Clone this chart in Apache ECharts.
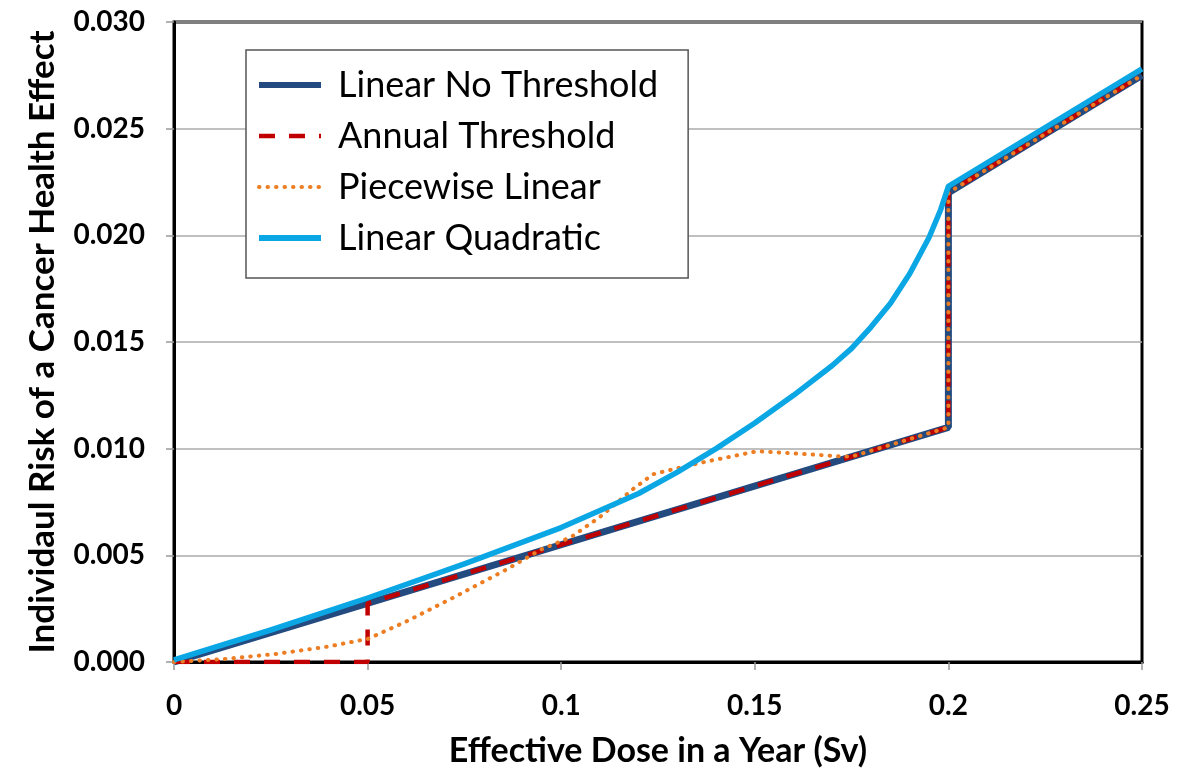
<!DOCTYPE html>
<html>
<head>
<meta charset="utf-8">
<script src="https://cdn.jsdelivr.net/npm/echarts@6/dist/echarts.min.js"></script>
<style>
  html, body { margin: 0; padding: 0; background: #fff; }
  #chart { width: 1196px; height: 773px; }
</style>
</head>
<body>
<div id="chart"></div>
<script>
// dose (Sv) and risk values
const lntDose = [0, 0.2, 0.2, 0.25];
const lntRisk = [0, 0.011, 0.022, 0.0275];

const annualDose = [0, 0.05, 0.05, 0.2, 0.2, 0.25];
const annualRisk = [0, 0, 0.00275, 0.011, 0.022, 0.0275];

const pieceDose = [0, 0.013, 0.026, 0.039, 0.05, 0.06, 0.073, 0.086, 0.095, 0.1025, 0.11, 0.1185, 0.1237,
  0.129, 0.1376, 0.1506, 0.1635, 0.172, 0.175, 0.2, 0.2, 0.25];
const pieceRisk = [0, 0.00014, 0.00037, 0.0007, 0.00108, 0.0019, 0.0031, 0.00435, 0.00529, 0.00585, 0.0068,
  0.0081, 0.0088, 0.00904, 0.0094, 0.00988, 0.00974, 0.00964, 0.009625, 0.011, 0.022, 0.0275];

const lqDose = [0, 0.025, 0.05, 0.075, 0.1, 0.11, 0.12, 0.13, 0.14, 0.15, 0.16, 0.17, 0.175, 0.18, 0.185,
  0.19, 0.195, 0.198, 0.2, 0.25];
const lqRisk = [0.0001, 0.0015, 0.003, 0.0046, 0.0063, 0.0071, 0.0079, 0.0089, 0.01, 0.0112, 0.0125, 0.0139,
  0.0147, 0.0157, 0.0168, 0.0182, 0.0199, 0.0212, 0.0223, 0.0278];

const seriesNames = ['Linear No Threshold', 'Annual Threshold', 'Piecewise Linear', 'Linear Quadratic'];

const zip = (xs, ys) => xs.map((x, i) => [x, ys[i]]);

const FONT = 'Lato';

const chart = echarts.init(document.getElementById('chart'));
chart.setOption({
  animation: false,
  textStyle: { fontFamily: FONT },
  grid: {
    left: 174, right: 54, top: 22, bottom: 110,
    show: true, borderColor: '#000', borderWidth: 3, backgroundColor: '#fff'
  },
  legend: {
    orient: 'vertical',
    left: 246, top: 50,
    padding: [15, 30, 20, 10],
    itemGap: 11,
    itemWidth: 62,
    itemHeight: 14,
    backgroundColor: '#fff',
    borderColor: '#555',
    borderWidth: 1.5,
    borderRadius: 0,
    itemStyle: { opacity: 0 },
    textStyle: { fontFamily: FONT, fontSize: 36, lineHeight: 40, color: '#000', padding: [0, 0, 0, 12] },
    data: [
      { name: seriesNames[0], lineStyle: { width: 6 } },
      { name: seriesNames[1], lineStyle: { width: 4.5 } },
      { name: seriesNames[2], lineStyle: { width: 4 } },
      { name: seriesNames[3], lineStyle: { width: 6 } }
    ]
  },
  xAxis: {
    type: 'value',
    min: 0, max: 0.25, interval: 0.05,
    name: 'Effective Dose in a Year (Sv)',
    nameLocation: 'middle',
    nameGap: 72,
    nameTextStyle: { fontFamily: FONT, fontSize: 34, fontWeight: 'bold', color: '#000' },
    axisLine: { show: true, lineStyle: { color: '#000', width: 3 } },
    axisTick: { show: true, length: 8, lineStyle: { color: '#999', width: 1.5 } },
    axisLabel: { fontFamily: FONT, fontSize: 28, fontWeight: 'bold', color: '#000', margin: 30 },
    splitLine: { show: false }
  },
  yAxis: {
    type: 'value',
    min: 0, max: 0.03, interval: 0.005,
    name: 'Individaul Risk of a Cancer Health Effect',
    nameLocation: 'middle',
    nameGap: 114,
    nameTextStyle: { fontFamily: FONT, fontSize: 35, fontWeight: 'bold', color: '#000' },
    axisLine: { show: true, lineStyle: { color: '#000', width: 3 } },
    axisTick: { show: true, length: 8, lineStyle: { color: '#999', width: 1.5 } },
    axisLabel: {
      fontFamily: FONT, fontSize: 28, fontWeight: 'bold', color: '#000', margin: 29,
      formatter: v => v.toFixed(3)
    },
    splitLine: { show: true, lineStyle: { color: '#ababab', width: 1.5 } }
  },
  series: [
    {
      name: seriesNames[0], type: 'line', data: zip(lntDose, lntRisk),
      symbol: 'none', z: 2,
      color: '#234b80',
      lineStyle: { color: '#234b80', width: 7 }
    },
    {
      name: seriesNames[1], type: 'line', data: zip(annualDose, annualRisk),
      symbol: 'none', z: 3,
      color: '#c00000',
      lineStyle: { color: '#c00000', width: 4.5, type: [16, 14] }
    },
    {
      name: seriesNames[2], type: 'line', data: zip(pieceDose, pieceRisk),
      symbol: 'none', z: 4,
      color: '#ed7d22',
      lineStyle: { color: '#ed7d22', width: 4, type: [0.5, 8], cap: 'round' }
    },
    {
      name: seriesNames[3], type: 'line', data: zip(lqDose, lqRisk),
      symbol: 'none', z: 5,
      color: '#0ba6e4',
      lineStyle: { color: '#0ba6e4', width: 5.5, join: 'round' }
    }
  ]
});
</script>
</body>
</html>
